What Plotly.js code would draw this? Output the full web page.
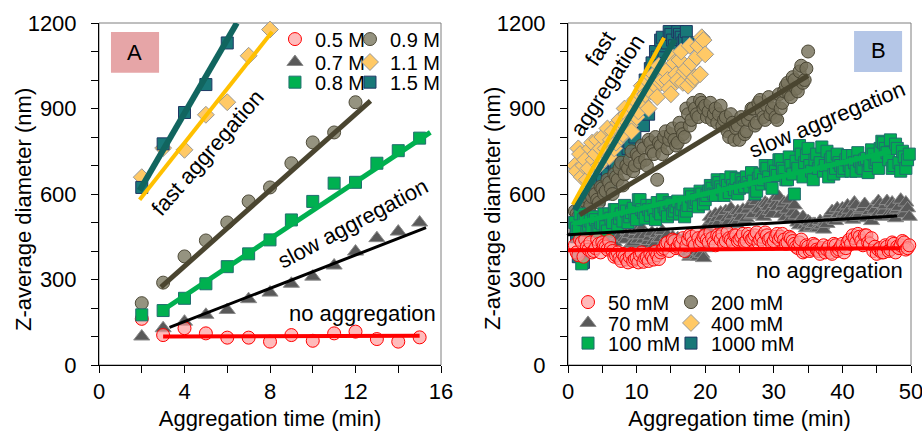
<!DOCTYPE html>
<html><head><meta charset="utf-8">
<script src="https://cdn.plot.ly/plotly-3.0.1.min.js"></script>
<style>html,body{margin:0;padding:0;background:#fff}#chart{width:922px;height:431px}</style>
</head><body><div id="chart"></div>
<script>
// ---------- Panel A data ----------
const timeA = [2,3,4,5,6,7,8,9,10,11,12,13,14,15];
const a05 = [162,105,129,111,96,96,82,105,85,111,117,91,82,97];
const a07 = [100,129,152,176,193,231,254,285,310,349,398,445,468,500];
const a08 = [176,191,234,285,345,390,439,509,574,638,641,708,752,796];
const timeA09 = [2,3,4,5,6,7,8,9,10,11,12];
const a09 = [217,289,381,437,500,574,623,708,781,816,922];
const timeA11 = [2,3,4,5,6,7,8];
const a11 = [659,761,755,878,922,1085,1177];
const timeA15 = [2,3,4,5,6];
const a15 = [623,776,886,984,1130];
// fit lines panel A (start, end)
const fitA05x = [3,15],    fitA05y = [100,103];
const fitA07x = [3.3,15.3], fitA07y = [132,482];
const fitA08x = [3,15.5],  fitA08y = [193,816];
const fitA09x = [2.9,12.7], fitA09y = [273,927];
const fitA11x = [1.9,8.1], fitA11y = [580,1169];
const fitA15x = [1.9,6.45], fitA15y = [612,1200];
const namesA = ['0.5 M','0.7 M','0.8 M','0.9 M','1.1 M','1.5 M'];

// ---------- Panel B data ----------
const timeB = [1,1.5,2,2.5,3,3.5,4,4.5,5,5.5,
 6,6.5,7,7.5,8,8.5,9,9.5,10,10.5,
 11,11.5,12,12.5,13,13.5,14,14.5,15,15.5,
 16,16.5,17,17.5,18,18.5,19,19.5,20,20.5,
 21,21.5,22,22.5,23,23.5,24,24.5,25,25.5,
 26,26.5,27,27.5,28,28.5,29,29.5,30,30.5,
 31,31.5,32,32.5,33,33.5,34,34.5,35,35.5,
 36,36.5,37,37.5,38,38.5,39,39.5,40,40.5,
 41,41.5,42,42.5,43,43.5,44,44.5,45,45.5,
 46,46.5,47,47.5,48,48.5,49,49.5];
const timeB2 = [1.25,1.75,2.25,2.75,3.25,3.75,4.25,4.75,5.25,5.75,
 6.25,6.75,7.25,7.75,8.25,8.75,9.25,9.75,10.25,10.75,
 11.25,11.75,12.25,12.75,13.25,13.75,14.25,14.75,15.25,15.75,
 16.25,16.75,17.25,17.75,18.25,18.75,19.25,19.75,20.25,20.75,
 21.25,21.75,22.25,22.75,23.25,23.75,24.25,24.75,25.25,25.75,
 26.25,26.75,27.25,27.75,28.25,28.75,29.25,29.75,30.25,30.75,
 31.25,31.75,32.25,32.75,33.25,33.75,34.25,34.75,35.25,35.75,
 36.25,36.75,37.25,37.75,38.25,38.75,39.25,39.75,40.25,40.75,
 41.25,41.75,42.25,42.75,43.25,43.75,44.25,44.75,45.25,45.75,
 46.25,46.75,47.25,47.75,48.25,48.75,49.25,49.75];
const b50 = [420,385,430,440,405,395,410,425,430,415,
 435,400,385,375,390,370,380,365,375,385,
 362,378,390,370,385,395,410,430,420,435,
 415,425,400,440,450,420,445,435,455,430,
 445,420,450,460,435,445,430,455,440,460,
 435,450,445,465,440,430,455,445,435,460,
 450,440,430,445,425,410,440,400,415,405,
 420,400,410,395,415,390,420,405,425,410,
 440,455,430,450,420,455,425,400,390,410,
 395,415,405,425,415,420,430,410];
const b50b = [395,440,380,415,430,400,440,395,420,405,
 410,380,395,365,380,360,390,372,360,395,
 375,365,380,398,372,405,425,400,440,410,
 430,445,420,455,430,460,425,450,440,465,
 430,455,440,425,465,440,455,435,450,430,
 460,440,455,430,450,465,440,425,450,440,
 460,425,450,435,415,430,395,420,400,425,
 405,390,420,405,395,425,400,415,395,430,
 425,445,460,435,455,430,445,415,405,395,
 420,400,430,395,410,435,405,420];
const b70 = [470,500,520,490,510,480,495,470,450,465,
 440,460,475,450,480,440,460,430,470,455,
 440,425,450,435,460,445,430,455,440,420,
 445,430,410,395,385,400,380,390,410,495,
 510,530,500,520,540,505,525,495,530,545,
 515,560,530,575,545,520,565,540,580,555,
 530,570,545,515,560,500,510,490,505,485,
 495,480,490,500,515,540,505,530,550,520,
 545,510,560,530,550,515,540,555,525,565,
 540,575,525,560,545,580,530,550];
const b70b = [485,510,495,530,475,500,460,485,470,445,
 465,430,455,485,445,470,425,455,440,480,
 455,435,465,425,445,470,440,425,450,435,
 420,440,395,380,405,385,395,375,480,520,
 495,515,535,490,515,550,500,540,520,505,
 545,525,585,550,530,570,555,530,565,590,
 555,520,580,535,525,490,520,480,500,495,
 480,505,475,495,530,510,550,515,535,560,
 525,570,520,545,565,530,505,545,575,520,
 560,530,570,515,555,530,570,520];
const b100 = [500,470,355,520,490,480,510,470,495,485,
 530,500,545,515,505,540,520,550,510,580,
 535,560,525,545,570,530,555,520,565,540,
 575,545,520,560,590,570,555,600,580,610,
 620,595,640,615,650,605,630,655,620,640,
 660,625,645,610,670,650,690,640,700,665,
 720,680,650,700,600,690,740,710,760,680,
 720,690,765,700,660,730,690,710,680,720,
 700,735,680,715,690,725,700,740,720,760,
 780,745,790,700,760,680,730,720];
const b100b = [480,530,510,465,505,520,475,500,530,470,
 515,545,490,530,560,500,535,525,580,545,
 515,545,560,510,540,580,545,570,530,555,
 530,565,540,600,560,580,610,565,595,630,
 600,650,625,595,630,660,615,600,650,625,
 640,675,600,655,635,700,660,620,680,720,
 690,650,730,670,715,770,660,735,700,650,
 740,710,680,750,720,670,740,700,690,735,
 680,710,745,695,720,675,755,710,690,785,
 760,720,690,775,710,750,690,740];
const b200 = [540,520,560,575,545,590,600,570,620,610,
 640,600,660,690,630,700,720,680,740,710,
 760,700,780,740,650,770,800,760,810,790,
 780,830,800,880,860,900,870,920,910,890,
 860,900,880,840,870,800,850,830,790,860,
 820,880,900,850,930,870,910,880,920,860,
 900,960,990,940,1000,960,1050,1000,1100];
const b200b = [530,555,545,590,560,610,580,625,600,650,
 620,670,650,710,670,690,750,700,730,770,
 720,790,750,800,780,740,820,790,830,770,
 850,810,900,840,920,880,930,900,870,920,
 880,850,910,860,820,880,790,840,870,810,
 860,900,840,920,890,860,940,900,870,950,
 920,980,950,1010,970,1030,990,1040];
const b400 = [700,760,660,720,690,780,740,700,800,760,
 730,820,780,860,810,880,840,900,870,950,
 920,1000,960,1020,940,990,1040,1000,950,1060,
 1000,1100,1030,980,1060,1010,1120,1150,1090];
const b400b = [680,740,700,650,760,720,790,760,720,830,
 790,760,850,800,900,850,820,930,890,980,
 950,900,1010,980,1050,1000,1030,970,1080,1020,
 1070,990,1040,1120,1000,1080,1020,1140];
const b1000 = [500,380,540,470,560,600,620,580,650,690,
 640,720,700,760,740,800,780,820,860,900,
 840,960,1040,1000,1080,1140,1100,1130,1160,1120,
 1170,1150,1140,1130];
const b1000b = [450,520,360,560,520,580,640,610,600,670,
 720,680,740,720,790,760,830,800,880,950,
 1000,880,1060,1100,1050,1150,1120,1170,1140,1100,
 1160,1130,1170];
// fit lines panel B
const fitB50x = [0,48.5],   fitB50y = [403,410];
const fitB70x = [0,48],     fitB70y = [457,523];
const fitB100x = [0.7,47],  fitB100y = [495,749];
const fitB200x = [1.7,35],  fitB200y = [527,1015];
const fitB400x = [0.7,14],  fitB400y = [562,1148];
const fitB1000x = [1,15.6], fitB1000y = [544,1142];
const namesB = ['50 mM','70 mM','100 mM','200 mM','400 mM','1000 mM'];

// ---------- styles ----------
const FONT = 'Liberation Sans, Arial, sans-serif';
const mk = {
  red:   {symbol:'circle', size:13, color:'rgba(255,150,150,0.65)', line:{color:'#ff0000', width:1}},
  tri:   {symbol:'triangle-up', size:14, color:'#595959', line:{color:'#8c8c8c', width:1}},
  green: {symbol:'square', size:12, color:'#00b050', line:{color:'#1f6e6e', width:1}},
  olive: {symbol:'circle', size:13, color:'rgba(130,128,106,0.85)', line:{color:'#4e4a38', width:1}},
  oliveB:{symbol:'circle', size:13, color:'rgba(118,114,92,0.82)', line:{color:'#4a4634', width:1}},
  yel:   {symbol:'diamond', size:13, color:'#ffc966', line:{color:'#999999', width:1}},
  teal:  {symbol:'square', size:12, color:'#187878', line:{color:'#1f3864', width:1}}
};
const lc = {red:'#ff0000', tri:'#000000', green:'#00b050', olive:'#4a4530', yel:'#ffc000', teal:'#11655f'};
const lw = {red:4, tri:3, green:5, olive:5, yel:4, teal:6};

function pts(x, y, m, name, legend, xa, ya) {
  return {type:'scatter', mode:'markers', x:x, y:y, name:name, marker:m, legend:legend,
          xaxis:xa, yaxis:ya, cliponaxis:false, showlegend:true, hoverinfo:'x+y'};
}
function fit(x, y, c, w, xa, ya) {
  return {type:'scatter', mode:'lines', x:x, y:y, line:{color:c, width:w}, showlegend:false,
          xaxis:xa, yaxis:ya, hoverinfo:'skip'};
}
// empty trace that only registers the label axis so Plotly draws it
function anchorTrace(xa, ya) {
  return {type:'scatter', mode:'markers', x:[], y:[], xaxis:xa, yaxis:ya, showlegend:false, hoverinfo:'skip'};
}
// interleave the two sampling sets of a panel-B series
function both(t1, v1, t2, v2) {
  const x = [], y = [];
  const n = Math.max(v1.length, v2.length);
  for (let i = 0; i < n; i++) {
    if (i < v1.length) { x.push(t1[i]); y.push(v1[i]); }
    if (i < v2.length) { x.push(t2[i]); y.push(v2[i]); }
  }
  return {x, y};
}
const s50 = both(timeB, b50, timeB2, b50b);
const s70 = both(timeB, b70, timeB2, b70b);
const s100 = both(timeB, b100, timeB2, b100b);
const s200 = both(timeB, b200, timeB2, b200b);
const s400 = both(timeB, b400, timeB2, b400b);
const s1000 = both(timeB, b1000, timeB2, b1000b);

const data = [
  anchorTrace('x', 'y3'),
  anchorTrace('x2', 'y4'),
  // panel A markers
  pts(timeA, a07, mk.tri, namesA[1], 'legend2', 'x', 'y'),
  pts(timeA, a05, mk.red, namesA[0], 'legend', 'x', 'y'),
  pts(timeA09, a09, mk.olive, namesA[3], 'legend4', 'x', 'y'),
  pts(timeA, a08, mk.green, namesA[2], 'legend3', 'x', 'y'),
  pts(timeA11, a11, mk.yel, namesA[4], 'legend5', 'x', 'y'),
  pts(timeA15, a15, mk.teal, namesA[5], 'legend6', 'x', 'y'),
  fit(fitA05x, fitA05y, lc.red, lw.red, 'x', 'y'),
  fit(fitA07x, fitA07y, lc.tri, lw.tri, 'x', 'y'),
  fit(fitA08x, fitA08y, lc.green, lw.green, 'x', 'y'),
  fit(fitA09x, fitA09y, lc.olive, lw.olive, 'x', 'y'),
  fit(fitA11x, fitA11y, lc.yel, lw.yel, 'x', 'y'),
  fit(fitA15x, fitA15y, lc.teal, lw.teal, 'x', 'y'),
  // panel B markers
  pts(s70.x, s70.y, mk.tri, namesB[1], 'legend8', 'x2', 'y2'),
  pts(s1000.x, s1000.y, mk.teal, namesB[5], 'legend12', 'x2', 'y2'),
  pts(s400.x, s400.y, mk.yel, namesB[4], 'legend11', 'x2', 'y2'),
  pts(s200.x, s200.y, mk.oliveB, namesB[3], 'legend10', 'x2', 'y2'),
  pts(s100.x, s100.y, mk.green, namesB[2], 'legend9', 'x2', 'y2'),
  pts(s50.x, s50.y, mk.red, namesB[0], 'legend7', 'x2', 'y2'),
  fit(fitB50x, fitB50y, lc.red, lw.red, 'x2', 'y2'),
  fit(fitB70x, fitB70y, lc.tri, lw.tri, 'x2', 'y2'),
  fit(fitB100x, fitB100y, lc.green, lw.green, 'x2', 'y2'),
  fit(fitB200x, fitB200y, lc.olive, lw.olive, 'x2', 'y2'),
  fit(fitB400x, fitB400y, lc.yel, lw.yel, 'x2', 'y2'),
  fit(fitB1000x, fitB1000y, lc.teal, lw.teal, 'x2', 'y2')
];

function xax(domain, range, dtick, mdtick, anchor) {
  return {domain:domain, range:range, anchor:anchor, dtick:dtick, tick0:0,
    ticks:'outside', ticklen:7, tickwidth:1, tickcolor:'#000', ticklabeloverflow:'allow',
    minor:{dtick:mdtick, tick0:0, ticks:'outside', ticklen:7, tickwidth:1, tickcolor:'#000', showgrid:false},
    showline:true, linecolor:'#000', linewidth:1, mirror:false, showgrid:false, zeroline:false,
    tickfont:{size:22, color:'#000', family:FONT},
    title:{text:'Aggregation time (min)', font:{size:22, color:'#000', family:FONT}, standoff:8}};
}
// axis carrying the data: line + ticks (labels come from the companion axis below)
function yax(anchor) {
  return {domain:[0,1], range:[0,1200], anchor:anchor, dtick:300, tick0:0,
    ticks:'outside', ticklen:7, tickwidth:1, tickcolor:'#000', showticklabels:false,
    minor:{dtick:100, tick0:0, ticks:'outside', ticklen:7, tickwidth:1, tickcolor:'#000', showgrid:false},
    showline:true, linecolor:'#000', linewidth:1, mirror:false, showgrid:false, zeroline:false};
}
// companion axis on the same scale: tick labels set further off the axis line
function ylab(anchor, over) {
  return {overlaying:over, anchor:anchor, side:'left', range:[0,1200], autorange:false, dtick:300, tick0:0,
    ticks:'outside', ticklen:17, tickwidth:1, tickcolor:'rgba(0,0,0,0)', showline:false, showgrid:false, zeroline:false,
    tickfont:{size:22, color:'#000', family:FONT}};
}
function leg(x, y) {
  return {x:x, y:y, xanchor:'left', yanchor:'middle', bgcolor:'rgba(0,0,0,0)', borderwidth:0,
          font:{size:20, color:'#000', family:FONT}};
}
function ann(text, xa, ya, x, y, angle) {
  return {text:text, xref:xa, yref:ya, x:x, y:y, xanchor:'center', yanchor:'middle',
          textangle:angle, showarrow:false, font:{size:22, color:'#000', family:FONT}};
}
const yTitle = 'Z-average diameter (nm)';
const layout = {
  width:922, height:431,
  margin:{l:99, r:11, t:23, b:66},
  paper_bgcolor:'#fff', plot_bgcolor:'rgba(0,0,0,0)',
  font:{family:FONT, color:'#000'},
  xaxis: xax([0, 0.4212], [0,16], 4, 2, 'y'),
  yaxis: yax('x'),
  xaxis2: xax([0.5776, 1], [0,50], 10, 5, 'y2'),
  yaxis2: yax('x2'),
  yaxis3: ylab('x', 'y'),
  yaxis4: ylab('x2', 'y2'),
  legend:  leg(0.2167, 0.953),
  legend2: leg(0.2167, 0.886),
  legend3: leg(0.2167, 0.827),
  legend4: leg(0.3091, 0.953),
  legend5: leg(0.3091, 0.886),
  legend6: leg(0.3091, 0.827),
  legend7:  leg(0.5776, 0.184),
  legend8:  leg(0.5776, 0.123),
  legend9:  leg(0.5776, 0.064),
  legend10: leg(0.7044, 0.184),
  legend11: leg(0.7044, 0.123),
  legend12: leg(0.7044, 0.064),
  shapes:[
    {type:'rect', xref:'x domain', yref:'y domain', x0:0, x1:1, y0:0, y1:1, line:{color:'#7f7f7f', width:1}, layer:'below'},
    {type:'rect', xref:'x2 domain', yref:'y2 domain', x0:0, x1:1, y0:0, y1:1, line:{color:'#7f7f7f', width:1}, layer:'below'},
    {type:'rect', xref:'x', yref:'y', x0:0.56, x1:2.81, y0:1025, y1:1168, fillcolor:'#e6a5a7', line:{width:0}, layer:'below'},
    {type:'rect', xref:'x2', yref:'y2', x0:41.7, x1:48.7, y0:1028, y1:1172, fillcolor:'#b4c6e7', line:{width:0}, layer:'below'}
  ],
  annotations:[
    {text:yTitle, xref:'paper', yref:'paper', x:-0.0936, y:0.456, xanchor:'center', yanchor:'middle',
     textangle:-90, showarrow:false, font:{size:22, color:'#000', family:FONT}},
    {text:yTitle, xref:'paper', yref:'paper', x:0.484, y:0.456, xanchor:'center', yanchor:'middle',
     textangle:-90, showarrow:false, font:{size:22, color:'#000', family:FONT}},
    ann('A', 'x', 'y', 1.68, 1098, 0),
    ann('fast aggregation', 'x', 'y', 5.10, 744, -49),
    ann('slow aggregation', 'x', 'y', 11.88, 495, -28),
    ann('no aggregation', 'x', 'y', 12.35, 182, 0),
    ann('B', 'x2', 'y2', 45.2, 1102, 0),
    ann('fast', 'x2', 'y2', 4.66, 1112, -57),
    ann('aggregation', 'x2', 'y2', 5.69, 982, -57),
    ann('slow aggregation', 'x2', 'y2', 37.76, 860, -22.5),
    ann('no aggregation', 'x2', 'y2', 38.19, 333, 0)
  ]
};
Plotly.newPlot('chart', data, layout, {staticPlot:true, displayModeBar:false});
</script></body></html>
